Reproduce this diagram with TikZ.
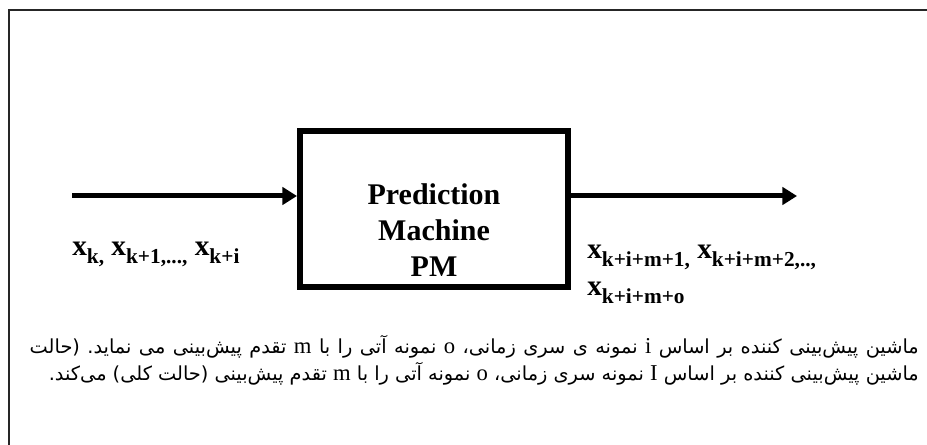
\documentclass[tikz,border=0pt]{standalone}
\usepackage{fontspec}
\setmainfont{Liberation Serif}
\newfontfamily\arabicfont[Script=Arabic]{DejaVu Sans}
\newfontfamily\latfont{Liberation Serif}
\TeXXeTstate=1
\usetikzlibrary{arrows.meta}
\newcommand\xsub[1]{x\raisebox{-6pt}{\fontsize{16}{16}\selectfont #1}}
\newcommand\lt[1]{{\latfont\fontsize{17}{17}\selectfont #1}}
\tikzset{
  frameline/.style={line width=1.5pt, draw=black!85},
  pmbox/.style={draw, line width=4.5pt, minimum width=201pt, minimum height=117pt, inner sep=0pt},
  pmtext/.style={align=center, inner sep=0pt, font=\fontsize{22.5}{27}\selectfont\bfseries},
  flow/.style={line width=3.75pt, -{Triangle[length=11pt,width=13pt]}},
  lab/.style={inner sep=0pt, anchor=base west, font=\fontsize{22}{22}\selectfont\bfseries},
  captxt/.style={inner sep=0pt, anchor=base east, font=\arabicfont\fontsize{14.5}{16}\selectfont}
}
\frenchspacing
\begin{document}
\begin{tikzpicture}[x=0.75pt,y=-0.75pt]
\useasboundingbox (0,0) rectangle (927,445);
\draw[frameline] (9,446) -- (9,10) -- (928,10);
\node[pmbox] (pm) at (434,209) {};
\node[pmtext] (pmt) at (434,230) {Prediction\\Machine\\PM};
\coordinate (inL) at (72,196);
\coordinate (outR) at (797,196);
\draw[flow] (inL) -- (inL -| pm.west);
\draw[flow] (pm.east |- inL) -- (outR);
\node[lab] (inlab) at (72,255) {\xsub{k,} \xsub{k+1,...,} \xsub{k+i}};
\node[lab] (outlab1) at (587,258) {\xsub{k+i+m+1,} \xsub{k+i+m+2,..,}};
\node[lab] (outlab2) at (587,295) {\xsub{k+i+m+o}};
\node[captxt] (cap1) at (919,353) {\hbox to 666.75pt{\frenchspacing\beginR ماشین پیش‌بینی کننده بر اساس \lt{i} نمونه ی سری زمانی، \lt{o} نمونه آتی را با \lt{m} تقدم پیش‌بینی می نماید. (حالت\endR}};
\node[captxt] (cap2) at (919,380) {\beginR ماشین پیش‌بینی کننده بر اساس \lt{I} نمونه سری زمانی، \lt{o} نمونه آتی را با \lt{m} تقدم پیش‌بینی (حالت کلی) می‌کند.\endR};
\end{tikzpicture}
\end{document}
